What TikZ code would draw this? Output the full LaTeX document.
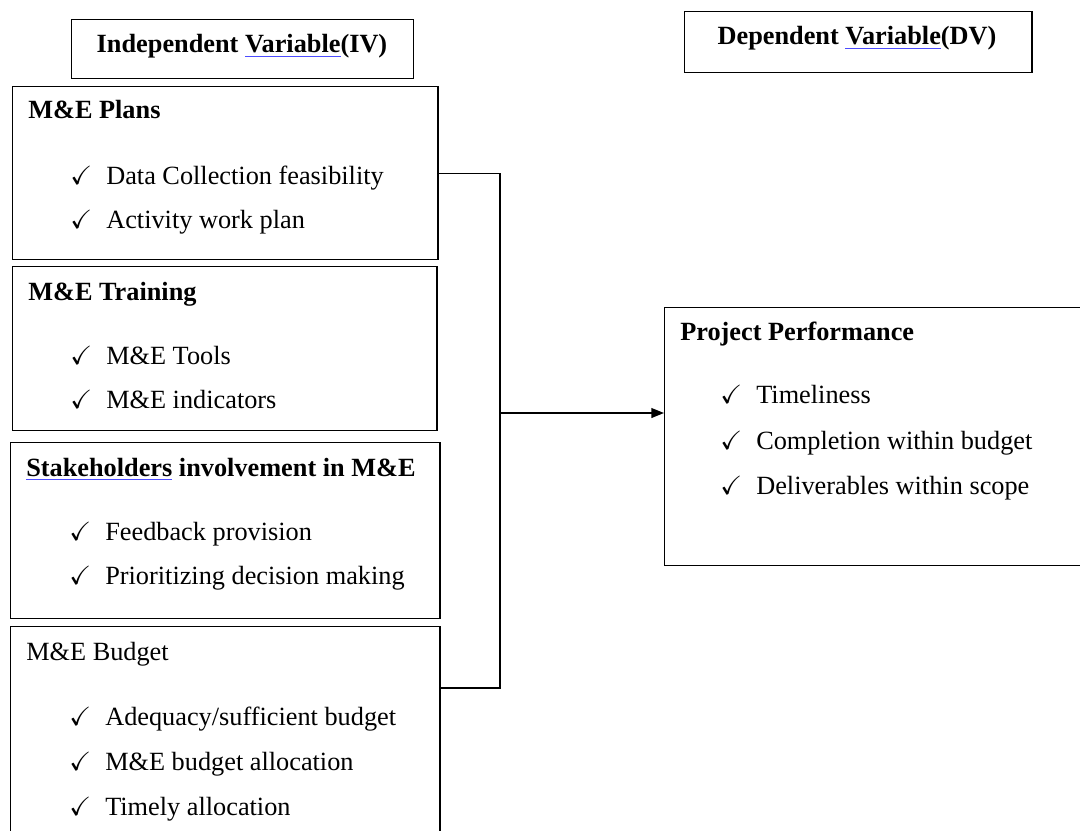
\documentclass[tikz,border=0pt]{standalone}
\usepackage{fontspec}
\usepackage{amssymb}
\setmainfont{Liberation Serif}
\usetikzlibrary{positioning,arrows.meta}

\newcommand{\tickbox}{\makebox[0.9cm][l]{$\checkmark$}}
\newcommand{\spellmark}[1]{{\color{blue!70}\underline{\color{black}#1}}}

\begin{document}
\begin{tikzpicture}[x=0.025cm, y=-0.025cm,
        every node/.style={inner sep=0pt, font=\fontsize{18.7}{22}\selectfont},
        box/.style={draw, line width=1pt, anchor=north west},
        head/.style={anchor=base west, font=\fontsize{18.7}{22}\selectfont\bfseries},
        point/.style={anchor=base west},
        link/.style={line width=1pt}]

        \useasboundingbox (0,0) rectangle (1080,830);
        \clip (0,0) rectangle (1080,830);

        % column headers
        \node[box, minimum width=8.55cm, minimum height=1.475cm] (iv) at (71,19) {};
        \node[head, anchor=base] (ivtext) at (242,52) {Independent \spellmark{Variable}(IV)};
        \node[box, minimum width=8.675cm, minimum height=1.525cm] (dv) at (684,11) {};
        \node[head, anchor=base] (dvtext) at (857,44) {Dependent \spellmark{Variable}(DV)};

        % independent variables
        \node[box, minimum width=10.625cm, minimum height=4.325cm] (plans) at (12,86) {};
        \node[head] (planstitle) at (28,118) {M\&E Plans};
        \node[point] (plans1) at (70,184) {\tickbox Data Collection feasibility};
        \node[point] (plans2) at (70,228) {\tickbox Activity work plan};

        \node[box, minimum width=10.6cm, minimum height=4.1cm] (training) at (12,266) {};
        \node[head] (trainingtitle) at (28,300) {M\&E Training};
        \node[point] (training1) at (70,364) {\tickbox M\&E Tools};
        \node[point] (training2) at (70,408) {\tickbox M\&E indicators};

        \node[box, minimum width=10.725cm, minimum height=4.4cm] (stake) at (10,442) {};
        \node[head] (staketitle) at (26,476) {\spellmark{Stakeholders} involvement in M\&E};
        \node[point] (stake1) at (69,540) {\tickbox Feedback provision};
        \node[point] (stake2) at (69,584) {\tickbox Prioritizing decision making};

        \node[box, minimum width=10.725cm, minimum height=5.6cm] (budget) at (10,626) {};
        \node[point] (budgettitle) at (26,660) {M\&E Budget};
        \node[point] (budget1) at (69,725) {\tickbox Adequacy/sufficient budget};
        \node[point] (budget2) at (69,770) {\tickbox M\&E budget allocation};
        \node[point] (budget3) at (69,815) {\tickbox Timely allocation};

        % dependent variable
        \node[box, minimum width=10.9cm, minimum height=6.45cm] (perf) at (664,307) {};
        \node[head] (perftitle) at (680,340) {Project Performance};
        \node[point] (perf1) at (720,403) {\tickbox Timeliness};
        \node[point] (perf2) at (720,449) {\tickbox Completion within budget};
        \node[point] (perf3) at (720,494) {\tickbox Deliverables within scope};

        % connectors
        \coordinate (bus) at (500,413);
        \coordinate (budgetout) at (439,688);
        \draw[link] (plans.east) -| (bus);
        \draw[link] (budgetout) -| (bus);
        \draw[link, -{Triangle[length=9pt, width=7pt]}] (bus) -- (perf.west |- bus);
\end{tikzpicture}
\end{document}
